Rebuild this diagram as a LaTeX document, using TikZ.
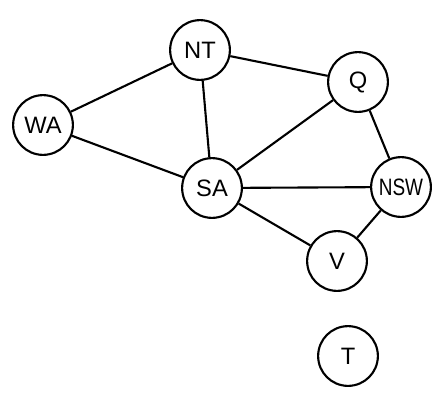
\documentclass[tikz,border=0pt]{standalone}
\usepackage{fontspec}
\setmainfont{Liberation Sans}

\tikzstyle{region}=[circle, draw, line width=1.2pt, minimum size=34pt, inner sep=0pt, font=\fontsize{13.5}{16}\selectfont]
\tikzstyle{edge} = [draw, line width=1.2pt, -]

\begin{document}
\begin{tikzpicture}[x=0.02cm, y=-0.02cm]
	    \useasboundingbox (0,0) rectangle (448,406);
	    \foreach \pos/\name in {{(43,125)/WA}, {(200,50)/NT}, {(358,82)/Q}, {(212,188)/SA}, {(337,261)/V}, {(348,356)/T}}
	        \node[region] (\name) at \pos {\name};
	    \node[region] (NSW) at (401,187) {\scalebox{0.8}[1]{NSW}};
	    \foreach \source/ \dest in {WA/NT, WA/SA, NT/SA, NT/Q, SA/Q, SA/NSW, SA/V, Q/NSW, NSW/V}
			\path[edge] (\source) -- (\dest);
	\end{tikzpicture}
\end{document}
